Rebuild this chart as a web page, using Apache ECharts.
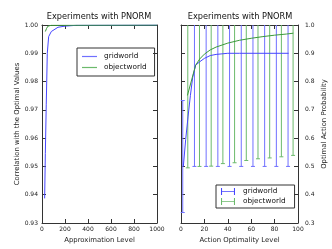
<!DOCTYPE html>
<html><head><meta charset="utf-8">
<script src="https://cdn.jsdelivr.net/npm/echarts@6/dist/echarts.min.js"></script>
<style>html,body{margin:0;padding:0;background:#fff}#c{width:332px;height:249px}</style>
</head><body><div id="c"></div>
<script>
// ---- Left panel: correlation vs approximation level ----
const approxTicks = [0, 200, 400, 600, 800, 1000];
const corrTicks = [0.93, 0.94, 0.95, 0.96, 0.97, 0.98, 0.99, 1.00];
const gridBlueX = [23, 29, 37, 46, 58, 81, 139, 200, 300, 1000];
const gridBlueY = [0.9387, 0.9546, 0.972, 0.990, 0.9959, 0.9977, 0.9992, 0.9996, 0.9999, 1.0];
const objGreenX = [29, 40, 52, 80, 1000];
const objGreenY = [0.9977, 0.9988, 0.9996, 0.9999, 1.0];

// ---- Right panel: optimal action probability vs action optimality level ----
const actTicks = [0, 20, 40, 60, 80, 100];
const probTicks = [0.3, 0.4, 0.5, 0.6, 0.7, 0.8, 0.9, 1.0];
const gridLineX = [2, 4, 6, 8, 10, 12.5, 16, 20, 25, 30, 35, 40, 50, 92];
const gridLineY = [0.50, 0.595, 0.675, 0.75, 0.815, 0.858, 0.87, 0.882, 0.892, 0.896, 0.898, 0.9, 0.9, 0.9];
const objLineX = [5.5, 12.5, 16, 20, 25, 30, 35, 40, 50, 60, 70, 80, 90, 96];
const objLineY = [0.751, 0.858, 0.88, 0.897, 0.912, 0.922, 0.929, 0.936, 0.946, 0.953, 0.959, 0.964, 0.968, 0.971];
const gridErrX = [1.5, 11.5, 21.5, 31.5, 41.5, 51.5, 61.5, 71.5, 81.5, 91.5];
const gridErrMean = [0.535, 0.85, 0.885, 0.895, 0.899, 0.9, 0.9, 0.9, 0.9, 0.9];
const gridErrSize = [0.198, 0.35, 0.385, 0.395, 0.399, 0.4, 0.4, 0.4, 0.4, 0.4];
const objErrX = [5.8, 15.8, 25.8, 35.8, 45.8, 55.8, 65.8, 75.8, 85.8, 95.8];
const objErrMean = [0.751, 0.878, 0.914, 0.930, 0.944, 0.953, 0.959, 0.964, 0.968, 0.971];
const objErrSize = [0.256, 0.378, 0.413, 0.42, 0.431, 0.432, 0.432, 0.434, 0.434, 0.432];

const FONT = 'DejaVu Sans';
const AX = '#333';
const BLUE_LINE = '#4646ff', BLUE_ERR = '#7070ff';
const GREEN_LINE = '#3a9a3a', GREEN_ERR = '#6cba6c';

const zip = (a, b) => a.map((v, i) => [v, b[i]]);
const errData = (xs, m, e) => xs.map((x, i) => [x, m[i] - e[i], m[i] + e[i]]);

function errRender(color) {
  return function (params, api) {
    const cs = params.coordSys;
    const x = api.value(0), lo = api.value(1), hi = api.value(2);
    const pLo = api.coord([x, lo]), pHi = api.coord([x, hi]);
    const top = Math.max(pHi[1], cs.y), bot = Math.min(pLo[1], cs.y + cs.height);
    const st = { stroke: color, lineWidth: 1 };
    const ch = [{ type: 'line', shape: { x1: pLo[0], y1: top, x2: pLo[0], y2: bot }, style: st }];
    if (pLo[1] <= cs.y + cs.height) ch.push({ type: 'line', shape: { x1: pLo[0] - 2, y1: pLo[1], x2: pLo[0] + 2, y2: pLo[1] }, style: st });
    if (pHi[1] >= cs.y) ch.push({ type: 'line', shape: { x1: pHi[0] - 2, y1: pHi[1], x2: pHi[0] + 2, y2: pHi[1] }, style: st });
    return { type: 'group', children: ch };
  };
}

function xAx(gi, min, max, step, pos, labels, name) {
  return {
    type: 'value', gridIndex: gi, position: pos, min, max, interval: step,
    axisLine: { show: true, onZero: false, lineStyle: { color: AX, width: 1 } },
    axisTick: { show: true, inside: true, length: 4, lineStyle: { color: AX } },
    axisLabel: { show: labels, fontSize: 6, fontFamily: FONT, color: '#222', margin: 3,
      formatter: v => String(v) },
    splitLine: { show: false },
    name: labels ? name : '', nameLocation: 'middle', nameGap: 13,
    nameTextStyle: { fontSize: 6.9, fontFamily: FONT, color: '#222' }
  };
}
function yAx(gi, min, max, step, pos, labels, name, dec, gap, margin) {
  return {
    type: 'value', gridIndex: gi, position: pos, min, max, interval: step,
    axisLine: { show: true, onZero: false, lineStyle: { color: AX, width: 1 } },
    axisTick: { show: true, inside: true, length: 4, lineStyle: { color: AX } },
    axisLabel: { show: labels, fontSize: 6, fontFamily: FONT, color: '#222', margin: margin,
      formatter: v => v.toFixed(dec) },
    splitLine: { show: false },
    name: labels ? name : '', nameLocation: 'middle', nameGap: gap, nameRotate: 90,
    nameTextStyle: { fontSize: 6.9, fontFamily: FONT, color: '#222' }
  };
}

const errIcon = 'path://M0,0H3V20H0Z M0,9H40V11.5H0Z M37,0H40V20H37Z';
const lineIcon = 'path://M0,0H40V3.2H0Z';

const option = {
  animation: false,
  backgroundColor: '#fff',
  title: [
    { text: 'Experiments with PNORM', left: 99, top: 13, padding: 0, textAlign: 'center',
      textStyle: { fontSize: 8.2, fontWeight: 'normal', fontFamily: FONT, color: '#111' } },
    { text: 'Experiments with PNORM', left: 240, top: 13, padding: 0, textAlign: 'center',
      textStyle: { fontSize: 8.2, fontWeight: 'normal', fontFamily: FONT, color: '#111' } }
  ],
  grid: [
    { left: 42, top: 25, width: 115, height: 198 },
    { left: 181, top: 25, width: 117, height: 198 }
  ],
  xAxis: [
    xAx(0, 0, 1000, 200, 'bottom', true, 'Approximation Level'),
    xAx(0, 0, 1000, 200, 'top', false, ''),
    xAx(1, 0, 100, 20, 'bottom', true, 'Action Optimality Level'),
    xAx(1, 0, 100, 20, 'top', false, '')
  ],
  yAxis: [
    yAx(0, 0.93, 1.0, 0.01, 'left', true, 'Correlation with the Optimal Values', 2, 20, 4),
    yAx(0, 0.93, 1.0, 0.01, 'right', false, '', 2, 0, 4),
    yAx(1, 0.3, 1.0, 0.1, 'right', true, 'Optimal Action Probability', 1, 23, 7),
    yAx(1, 0.3, 1.0, 0.1, 'left', false, '', 1, 0, 4)
  ],
  legend: [
    { orient: 'vertical', left: 77, top: 48, padding: [5, 8, 5, 5], itemGap: 4,
      itemWidth: 15, itemHeight: 8, borderColor: '#333', borderWidth: 1, borderRadius: 0,
      textStyle: { fontSize: 7.3, fontFamily: FONT, color: '#111', padding: [0, 0, 0, 2] },
      data: [{ name: 'gridworld', icon: lineIcon, itemStyle: { color: BLUE_ERR } },
             { name: 'objectworld', icon: lineIcon, itemStyle: { color: GREEN_ERR } }] },
    { orient: 'vertical', left: 216, top: 185, padding: [3, 9, 3, 5], itemGap: 3,
      itemWidth: 14, itemHeight: 8, borderColor: '#333', borderWidth: 1, borderRadius: 0,
      textStyle: { fontSize: 7.3, fontFamily: FONT, color: '#111', padding: [0, 0, 0, 3] },
      data: [{ name: 'gridworld', icon: errIcon, itemStyle: { color: BLUE_LINE } },
             { name: 'objectworld', icon: errIcon, itemStyle: { color: GREEN_ERR } }] }
  ],
  series: [
    { name: 'gridworld', type: 'line', xAxisIndex: 0, yAxisIndex: 0, symbol: 'none',
      data: zip(gridBlueX, gridBlueY), lineStyle: { color: BLUE_LINE, width: 1 }, itemStyle: { color: BLUE_LINE } },
    { name: 'objectworld', type: 'line', xAxisIndex: 0, yAxisIndex: 0, symbol: 'none',
      data: zip(objGreenX, objGreenY), lineStyle: { color: GREEN_LINE, width: 1 }, itemStyle: { color: GREEN_LINE } },
    { name: 'gridworld', type: 'custom', xAxisIndex: 2, yAxisIndex: 2,
      renderItem: errRender(BLUE_ERR), data: errData(gridErrX, gridErrMean, gridErrSize),
      itemStyle: { color: BLUE_ERR }, encode: { x: 0, y: [1, 2] } },
    { name: 'objectworld', type: 'custom', xAxisIndex: 2, yAxisIndex: 2,
      renderItem: errRender(GREEN_ERR), data: errData(objErrX, objErrMean, objErrSize),
      itemStyle: { color: GREEN_ERR }, encode: { x: 0, y: [1, 2] } },
    { name: 'gridworld', type: 'line', xAxisIndex: 2, yAxisIndex: 2, symbol: 'none',
      data: zip(gridLineX, gridLineY), lineStyle: { color: BLUE_LINE, width: 1 }, itemStyle: { color: BLUE_LINE } },
    { name: 'objectworld', type: 'line', xAxisIndex: 2, yAxisIndex: 2, symbol: 'none',
      data: zip(objLineX, objLineY), lineStyle: { color: GREEN_LINE, width: 1 }, itemStyle: { color: GREEN_LINE } }
  ]
};
const chart = echarts.init(document.getElementById('c'), null, { renderer: 'canvas' });
chart.setOption(option);
</script></body></html>
